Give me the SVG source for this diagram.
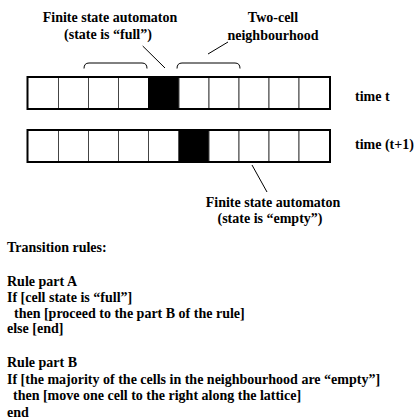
<svg xmlns="http://www.w3.org/2000/svg" width="415" height="419" viewBox="0 0 415 419">
<style>
text{font-family:'Liberation Serif','Times New Roman',serif;font-weight:bold;font-size:14px;fill:#000}
.c{fill:#fff;stroke:#444;stroke-width:1}
.f{fill:#000;stroke:#000;stroke-width:1}
.o{fill:none;stroke:#000;stroke-width:2}
.l{fill:none;stroke:#000;stroke-width:1}
.m{text-anchor:middle}
</style>
<rect width="415" height="419" fill="#fff"/>
<g id="row-t">
<rect class="c" x="27.5" y="77" width="31" height="32"/>
<rect class="c" x="58.5" y="77" width="30" height="32"/>
<rect class="c" x="88.5" y="77" width="30" height="32"/>
<rect class="c" x="118.5" y="77" width="30" height="32"/>
<rect class="f" x="148.5" y="77" width="30.5" height="32"/>
<rect class="c" x="179" y="77" width="30" height="32"/>
<rect class="c" x="209" y="77" width="30" height="32"/>
<rect class="c" x="239" y="77" width="30" height="32"/>
<rect class="c" x="269" y="77" width="30" height="32"/>
<rect class="c" x="299" y="77" width="31" height="32"/>
<rect class="o" x="27.5" y="77" width="302.5" height="32"/>
</g>
<g id="row-t1">
<rect class="c" x="27.5" y="130" width="31" height="32"/>
<rect class="c" x="58.5" y="130" width="30" height="32"/>
<rect class="c" x="88.5" y="130" width="30" height="32"/>
<rect class="c" x="118.5" y="130" width="30" height="32"/>
<rect class="c" x="148.5" y="130" width="30.5" height="32"/>
<rect class="f" x="179" y="130" width="30" height="32"/>
<rect class="c" x="209" y="130" width="30" height="32"/>
<rect class="c" x="239" y="130" width="30" height="32"/>
<rect class="c" x="269" y="130" width="30" height="32"/>
<rect class="c" x="299" y="130" width="31" height="32"/>
<rect class="o" x="27.5" y="130" width="302.5" height="32"/>
</g>
<g id="connectors">
<line class="l" x1="142.7" y1="46" x2="165" y2="68"/>
<line class="l" x1="208" y1="54" x2="228" y2="42"/>
<line class="l" x1="252" y1="165" x2="267" y2="192"/>
<path class="l" d="M84,68.5 Q84,63 89,63 L142,63 Q147,63 147,68.5"/>
<path class="l" d="M177,68.5 Q177,63 182,63 L235,63 Q240,63 240,68.5"/>
</g>
<g id="label-full">
<text class="m" x="110" y="22">Finite state automaton</text>
<text class="m" x="108" y="39">(state is “full”)</text>
</g>
<g id="label-neigh">
<text class="m" x="273" y="22">Two-cell</text>
<text class="m" x="273" y="40">neighbourhood</text>
</g>
<g id="label-time">
<text x="355" y="100.5">time t</text>
<text x="355" y="149">time (t+1)</text>
</g>
<g id="label-empty">
<text class="m" x="273" y="207">Finite state automaton</text>
<text class="m" x="270" y="223">(state is “empty”)</text>
</g>
<g id="rules">
<text x="7" y="251.5">Transition rules:</text>
<text x="7" y="285.5">Rule part A</text>
<text x="7" y="301.5">If [cell state is “full”]</text>
<text x="14" y="317.5">then [proceed to the part B of the rule]</text>
<text x="7" y="333">else [end]</text>
<text x="7" y="367">Rule part B</text>
<text x="7" y="383.5">If [the majority of the cells in the neighbourhood are “empty”]</text>
<text x="13" y="400">then [move one cell to the right along the lattice]</text>
<text x="7" y="416.5">end</text>
</g>
</svg>
